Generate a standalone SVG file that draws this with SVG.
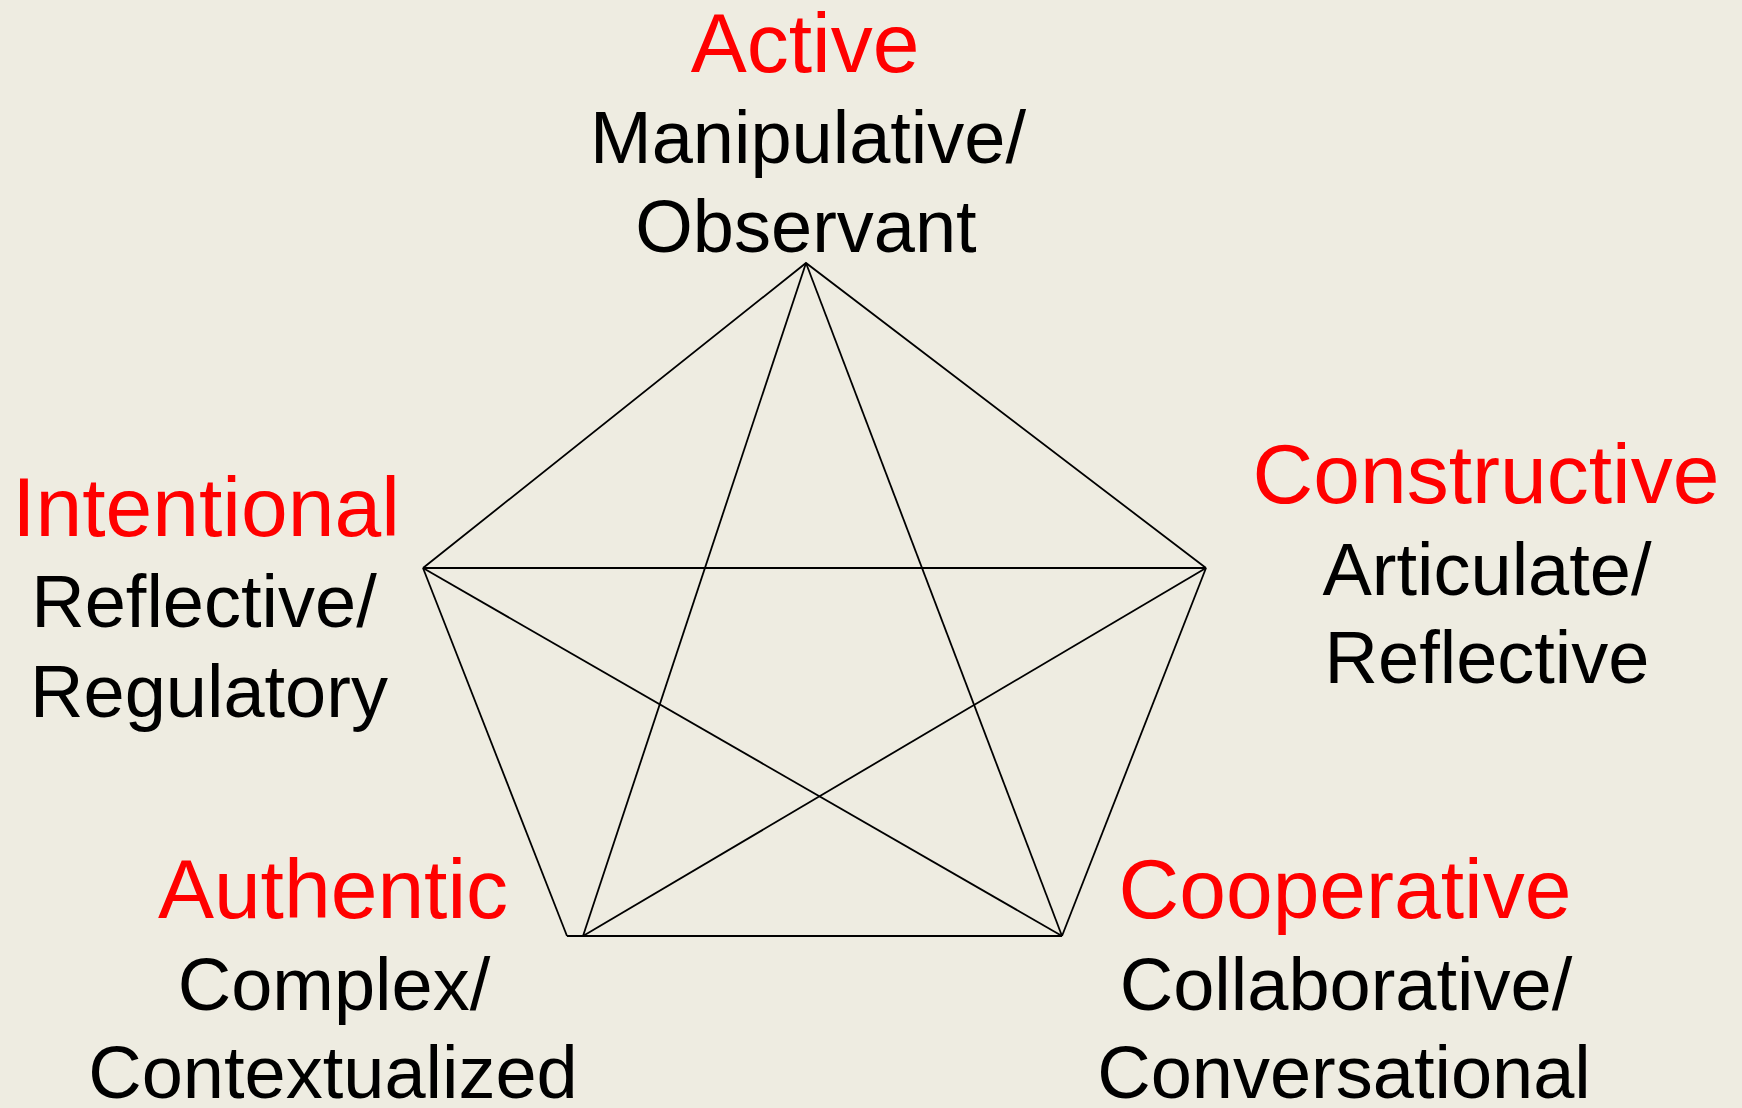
<svg xmlns="http://www.w3.org/2000/svg" width="1742" height="1108" viewBox="0 0 1742 1108">
<style>
.t{font-family:"Liberation Sans",Arial,sans-serif;text-anchor:middle}
.h{fill:#FF0000;font-size:84px}
.s{fill:#000000;font-size:74px}
.ln{stroke:#000;stroke-width:1.8;fill:none;stroke-linejoin:miter}
</style>
<rect x="0" y="0" width="1742" height="1108" fill="#EEECE1"/>
<g id="connectors" class="ln">
<polyline points="423,568 806,263 1206,568"/>
<line x1="423" y1="568" x2="567" y2="936"/>
<line x1="1206" y1="568" x2="1062" y2="936"/>
<line x1="567" y1="936" x2="1062" y2="936"/>
<line x1="806" y1="263" x2="583" y2="936"/>
<line x1="806" y1="263" x2="1062" y2="936"/>
<line x1="423" y1="568" x2="1206" y2="568"/>
<line x1="423" y1="568" x2="1062" y2="936"/>
<line x1="1206" y1="568" x2="583" y2="936"/>
</g>
<g id="active" class="t">
<text class="h" x="805" y="72">Active</text>
<text class="s" x="808" y="163">Manipulative/</text>
<text class="s" x="806" y="252">Observant</text>
</g>
<g id="intentional" class="t">
<text class="h" x="206" y="536">Intentional</text>
<text class="s" x="204" y="627">Reflective/</text>
<text class="s" x="209" y="717">Regulatory</text>
</g>
<g id="constructive" class="t">
<text class="h" x="1486" y="503">Constructive</text>
<text class="s" x="1487" y="595">Articulate/</text>
<text class="s" x="1487" y="683">Reflective</text>
</g>
<g id="authentic" class="t">
<text class="h" x="333" y="918">Authentic</text>
<text class="s" x="334" y="1010">Complex/</text>
<text class="s" x="333" y="1098">Contextualized</text>
</g>
<g id="cooperative" class="t">
<text class="h" x="1345" y="918">Cooperative</text>
<text class="s" x="1346" y="1010">Collaborative/</text>
<text class="s" x="1344" y="1098">Conversational</text>
</g>
</svg>
